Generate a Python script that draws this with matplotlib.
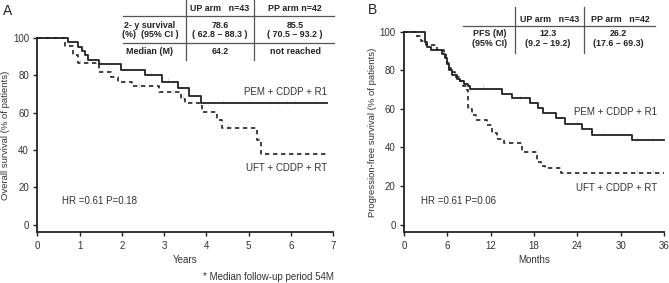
import matplotlib
matplotlib.use('Agg')
import matplotlib.pyplot as plt

plt.rcParams['font.family'] = ['Liberation Sans', 'DejaVu Sans']

# Panel A: overall survival (years)
os_pp_t = [0, 0.72, 0.97, 1.05, 1.12, 1.20, 1.45, 1.97, 2.55, 2.95, 3.33, 3.59, 3.86, 6.85]
os_pp_v = [100, 97.6, 95.2, 92.9, 90.5, 88.1, 85.7, 83.0, 80.0, 76.4, 72.9, 68.8, 64.9, 64.9]
os_up_t = [0, 0.65, 0.85, 0.97, 1.47, 1.75, 1.92, 2.25, 2.88, 3.40, 3.50, 3.89, 4.24, 4.36, 5.19, 5.30, 6.85]
os_up_v = [100, 95.3, 90.7, 86.7, 81.5, 79.1, 76.4, 74.0, 70.8, 67.5, 64.9, 60.4, 56.0, 51.6, 45.3, 37.6, 37.6]
os_pp_cens_t = [0.6, 1.5, 2.7, 3.1, 4.4, 5.0, 5.5, 5.7, 5.9, 6.1, 6.6]
os_up_cens_t = [0.75, 1.0, 1.8, 2.4, 3.2, 3.45, 4.5, 5.25, 5.38]

# Panel B: progression-free survival (months)
pfs_pp_t = [0, 2.9, 3.2, 3.7, 5.3, 5.7, 6.0, 6.2, 6.7, 7.4, 7.8, 8.3, 8.8, 9.2,
            13.6, 15.0, 17.5, 18.5, 19.2, 21.0, 22.3, 24.7, 26.0, 31.6, 36]
pfs_pp_v = [100, 94.8, 92.2, 90.4, 88.5, 86.5, 83.5, 80.0, 77.4, 75.7, 74.3, 73.0, 71.7, 70.4,
            67.9, 65.5, 62.9, 60.2, 57.6, 55.0, 52.4, 49.5, 46.4, 43.6, 43.6]
pfs_up_t = [0, 1.6, 2.4, 3.0, 4.6, 5.5, 5.8, 6.0, 6.2, 6.5, 7.0, 7.6, 8.1, 8.7, 8.9, 9.4,
            10.0, 11.5, 12.2, 12.9, 13.8, 16.4, 18.4, 18.9, 19.5, 21.7, 36]
pfs_up_v = [100, 97.7, 95.3, 93.0, 90.7, 88.4, 86.0, 83.7, 81.4, 79.1, 76.7, 74.4, 72.1, 69.8,
            60.0, 57.0, 54.3, 51.7, 47.4, 44.4, 42.2, 37.4, 32.5, 30.5, 29.3, 26.8, 26.8]
pfs_pp_cens_t = [4.0, 11.0, 16.0, 24.0, 27.5, 32.3, 34.5]
pfs_up_cens_t = [1.8, 9.0, 14.5, 32.3, 34.5]

txt = '#333333'


def step_value(ts, vs, x):
    v = vs[0]
    for t, val in zip(ts, vs):
        if t <= x:
            v = val
    return v


def draw_km(ax, t1, v1, t2, v2, c1, c2, xmax, xticks, xlabel, ylabel):
    ax.step(t1, v1, where='post', color='#222222', lw=1.3, clip_on=False, zorder=3)
    ax.step(t2, v2, where='post', color='#222222', lw=1.2, dashes=(2.6, 2.2),
            clip_on=False, zorder=3)
    # censor ticks, very faint in the original
    ax.plot(c1, [step_value(t1, v1, c) + 0.8 for c in c1], ls='none', marker='|',
            ms=3.5, mew=0.7, color='#d6d6d6', zorder=2)
    ax.plot(c2, [step_value(t2, v2, c) + 0.8 for c in c2], ls='none', marker='|',
            ms=3.5, mew=0.7, color='#d6d6d6', zorder=2)
    ax.set_xlim(0, xmax)
    ax.set_ylim(-4, 100)
    ax.set_xticks(xticks)
    ax.set_yticks([0, 20, 40, 60, 80, 100])
    ax.spines['top'].set_visible(False)
    ax.spines['right'].set_visible(False)
    for s in ['left', 'bottom']:
        ax.spines[s].set_linewidth(1.3)
        ax.spines[s].set_color('#222222')
    ax.spines['left'].set_bounds(-4, 100)
    ax.tick_params(direction='out', length=3, width=1, colors='#222222',
                   labelsize=7, labelcolor=txt, pad=3)
    ax.set_xlabel(xlabel, fontsize=7, color=txt, labelpad=3)
    ax.set_ylabel(ylabel, fontsize=6.8, color=txt, labelpad=2)
    ax.patch.set_visible(False)


fig = plt.figure(figsize=(6.69, 2.83), dpi=100)
W, H = 669, 283


def fx(px):
    return px / W


def fy(py):
    return 1 - py / H


axA = fig.add_axes([fx(37.3), fy(232.3), fx(333.3 - 37.3), (232.3 - 37.7) / H])
draw_km(axA, os_pp_t, os_pp_v, os_up_t, os_up_v, os_pp_cens_t, os_up_cens_t,
        7, range(0, 8), 'Years', 'Overall survival (% of patients)')

axB = fig.add_axes([fx(404), fy(232.3), fx(664 - 404), (232.3 - 31.7) / H])
draw_km(axB, pfs_pp_t, pfs_pp_v, pfs_up_t, pfs_up_v, pfs_pp_cens_t, pfs_up_cens_t,
        36, range(0, 37, 6), 'Months', 'Progression-free survival (% of patients)')

# curve labels / HR text (in figure pixels)
fig.text(fx(327), fy(92), 'PEM + CDDP + R1', fontsize=7, color=txt, ha='right', va='center')
fig.text(fx(327), fy(168), 'UFT + CDDP + RT', fontsize=7, color=txt, ha='right', va='center')
fig.text(fx(62), fy(201), 'HR =0.61 P=0.18', fontsize=7, color=txt, ha='left', va='center')
fig.text(fx(657), fy(112), 'PEM + CDDP + R1', fontsize=7, color=txt, ha='right', va='center')
fig.text(fx(657), fy(188), 'UFT + CDDP + RT', fontsize=7, color=txt, ha='right', va='center')
fig.text(fx(421), fy(201), 'HR =0.61 P=0.06', fontsize=7, color=txt, ha='left', va='center')

fig.text(fx(3), fy(11), 'A', fontsize=10, color='#222222', ha='left', va='center')
fig.text(fx(368), fy(10), 'B', fontsize=10, color='#222222', ha='left', va='center')
fig.text(fx(334), fy(277), '* Median follow-up period 54M', fontsize=7, color=txt,
         ha='right', va='center')

# table A
line_kw = dict(color='#555555', lw=0.9)
fig.add_artist(plt.Line2D([fx(123), fx(334)], [fy(16), fy(16)], **line_kw))
fig.add_artist(plt.Line2D([fx(123), fx(334)], [fy(43.3), fy(43.3)], **line_kw))
fig.add_artist(plt.Line2D([fx(186), fx(186)], [fy(0), fy(60)], **line_kw))
fig.add_artist(plt.Line2D([fx(254.3), fx(254.3)], [fy(0), fy(60)], **line_kw))
tab_a = [
    (220, 8.3, 'UP arm   n=43'), (295, 8.3, 'PP arm n=42'),
    (150, 25, '2- y survival'), (150, 34.3, '(%)  (95% CI )'),
    (220, 25, '78.6'), (220, 34.3, '( 62.8 – 88.3 )'),
    (295, 25, '85.5'), (295, 34.3, '( 70.5 – 93.2 )'),
    (150, 51.7, 'Median (M)'), (220, 51.7, '64.2'), (295, 51.7, 'not reached'),
]
for x, y, s in tab_a:
    fig.text(fx(x), fy(y), s, fontsize=6.4, color='#222222', ha='center', va='center',
             fontweight='bold')

# table B
fig.add_artist(plt.Line2D([fx(463), fx(655)], [fy(26), fy(26)], **line_kw))
fig.add_artist(plt.Line2D([fx(515), fx(515)], [fy(6.7), fy(53.3)], **line_kw))
fig.add_artist(plt.Line2D([fx(584.3), fx(584.3)], [fy(6.7), fy(53.3)], **line_kw))
tab_b = [
    (550, 19, 'UP arm   n=43'), (620, 19, 'PP arm   n=42'),
    (490, 33.3, 'PFS (M)'), (490, 43.3, '(95% CI)'),
    (548, 33.3, '12.3'), (548, 43.3, '(9.2 – 19.2)'),
    (618, 33.3, '26.2'), (618, 43.3, '(17.6 – 69.3)'),
]
for x, y, s in tab_b:
    fig.text(fx(x), fy(y), s, fontsize=6.4, color='#222222', ha='center', va='center',
             fontweight='bold')

fig.savefig('out.png', dpi=100)
plt.close(fig)
